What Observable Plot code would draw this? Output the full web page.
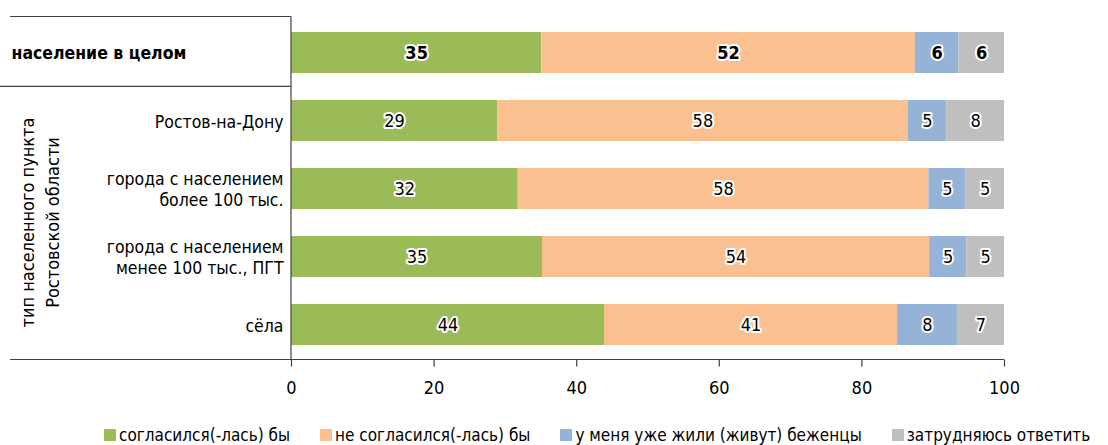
<!DOCTYPE html>
<html><head><meta charset="utf-8">
<script src="https://cdn.jsdelivr.net/npm/d3@7"></script>
<script src="https://cdn.jsdelivr.net/npm/@observablehq/plot@0.6"></script>
<style>
body{margin:0;background:#fff;font-family:"Liberation Sans Narrow","DejaVu Sans Condensed","Roboto Condensed",sans-serif;}
#legend{display:flex;gap:30px;padding-left:104px;font-size:17px;margin-top:10px;line-height:20px;color:#000;}
.item{display:flex;align-items:center;white-space:nowrap;}
.sw{width:12px;height:12px;margin-right:3px;}
</style></head><body><div id="chart"></div><div id="legend"></div>
<script>
const FONT = '"Liberation Sans Narrow","DejaVu Sans Condensed","Roboto Condensed",sans-serif';
const categories = ["население в целом", "Ростов-на-Дону", "города с населением\nболее 100 тыс.", "города с населением\nменее 100 тыс., ПГТ", "сёла"];
const seriesNames = ["согласился(-лась) бы", "не согласился(-лась) бы", "у меня уже жили (живут) беженцы", "затрудняюсь ответить"];
const colors = ["#9BBB59", "#FAC090", "#95B3D7", "#BFBFBF"];
const agree    = [35.1, 28.9, 31.8, 35.2, 43.9];
const disagree = [52.4, 57.6, 57.6, 54.3, 41.1];
const hosted   = [6.1, 5.4, 5.2, 5.2, 8.4];
const unsure   = [6.4, 8.1, 5.4, 5.3, 6.6];
const xTicks = [0, 20, 40, 60, 80, 100];
const groupLabel = ["тип населенного пункта", "Ростовской области"];

const seriesValues = [agree, disagree, hosted, unsure];
const data = [];
categories.forEach((c, i) => {
  seriesNames.forEach((s, j) => data.push({cat: c, series: s, value: seriesValues[j][i], row: i}));
});
const firstRow = data.filter(d => d.row === 0);
const otherRows = data.filter(d => d.row !== 0);

const H = 415;
const FS = 18;
const FL = 17.5;
const labelOpts = (bold) => Plot.stackX({
  x: "value", y: "cat", z: "series",
  text: d => String(Math.round(d.value)),
  fill: "#000", stroke: "white", strokeWidth: 4, strokeLinejoin: "round",
  fontWeight: bold ? "bold" : "normal", fontSize: FS
});

const plot = Plot.plot({
  width: 1108, height: H,
  marginLeft: 291, marginRight: 104, marginTop: 16.5, marginBottom: H - 359.5,
  style: {fontFamily: FONT, fontSize: FS + "px", color: "#000", background: "#fff"},
  x: {domain: [0, 100], label: null},
  y: {domain: categories, paddingInner: 0.4, paddingOuter: 0.2, axis: null},
  color: {domain: seriesNames, range: colors},
  marks: [
    Plot.barX(data, Plot.stackX({x: "value", y: "cat", fill: "series"})),
    Plot.text(firstRow, labelOpts(true)),
    Plot.text(otherRows, labelOpts(false)),
    Plot.axisX({ticks: xTicks, tickSize: 7, tickPadding: 14, fontSize: FS, stroke: "#404040", strokeWidth: 1.2, label: null}),
    Plot.text(categories.slice(1), {y: d => d, text: d => d, frameAnchor: "left", textAnchor: "end", dx: -8, lineHeight: 1.2, fontSize: FL}),
    Plot.text(categories.slice(0, 1), {y: d => d, text: d => d, frameAnchor: "left", textAnchor: "start", dx: -280, fontWeight: "bold", fontSize: FL})
  ]
});

const svg = d3.select(plot);
const ys = plot.scale("y");
const xs = plot.scale("x");
const yTop = ys.range[0], yBottom = ys.range[1];
const gapPx = ys.step * ys.paddingInner;
const ySep = ys.apply(categories[1]) - gapPx / 2;
const x0 = xs.apply(0), x100 = xs.apply(100);
const g = svg.append("g").attr("stroke", "#404040").attr("stroke-width", 1.2);
g.append("line").attr("x1", 10).attr("x2", x0).attr("y1", yTop).attr("y2", yTop);
g.append("line").attr("x1", 0).attr("x2", x0).attr("y1", ySep).attr("y2", ySep);
g.append("line").attr("x1", 10).attr("x2", x100).attr("y1", yBottom).attr("y2", yBottom);
g.append("line").attr("x1", x0).attr("x2", x0).attr("y1", yTop).attr("y2", yBottom);

const cy = (ys.apply(categories[1]) + ys.apply(categories[4]) + ys.bandwidth) / 2;
const t = svg.append("text").attr("transform", `translate(0,${cy}) rotate(-90)`)
  .attr("text-anchor", "middle").attr("font-size", FS).attr("fill", "#000");
t.append("tspan").attr("x", 0).attr("y", 34).text(groupLabel[0]);
t.append("tspan").attr("x", 0).attr("y", 59).text(groupLabel[1]);

document.getElementById("chart").appendChild(plot);

const legend = d3.select("#legend");
seriesNames.forEach((s, i) => {
  const it = legend.append("div").attr("class", "item");
  it.append("div").attr("class", "sw").style("background", colors[i]);
  it.append("span").text(s);
});
</script></body></html>
